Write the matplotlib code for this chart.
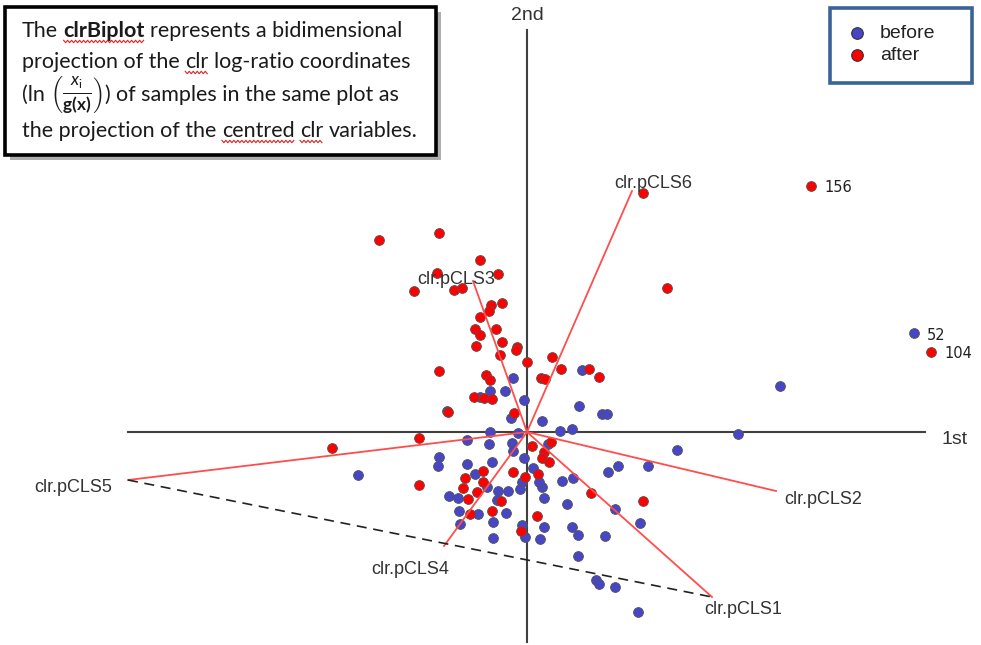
import numpy as np
import matplotlib
matplotlib.use('Agg')
import matplotlib.pyplot as plt
from matplotlib.patches import Rectangle

# sample scores (1st, 2nd component)
before_x = [-0.14, -0.22, -0.37, -0.47, -0.03, -0.16, -0.80, -0.37, -0.09, -0.60,
            0.55, 0.52, 0.75, 0.80, 0.15, 0.33, 0.45, 1.50, 1.21, 0.91,
            0.81, 0.46, 0.35, 0.40, 0.88, 1.13, 0.45, 0.51, 0.78, 0.17,
            0.13, -0.05, -0.02, 0.17, 0.15, 0.12, 0.06, -0.03, 0.21, -0.05,
            -0.07, -0.38, -0.15, -0.14, -0.88, -0.89, -0.60, -0.35, -0.52, -0.40,
            -0.29, -0.19, -0.78, -0.69, -0.30, -0.68, -0.49, -0.21, -0.34, -0.67,
            -0.34, 0.51, 0.69, 0.72, 0.88, 1.11, -1.69, 2.53, 3.87, 2.11]
before_y = [0.54, 0.41, 0.41, 0.35, 0.32, 0.14, 0.21, 0.00, -0.01, -0.08,
            0.62, 0.26, 0.18, 0.18, 0.11, 0.01, 0.03, -0.18, -0.34, -0.34,
            -0.40, -0.46, -0.49, -0.72, -0.77, -0.91, -0.95, -1.03, -1.04, -0.95,
            -1.07, -0.93, -1.05, -0.66, -0.55, -0.50, -0.36, -0.26, -0.12, -0.50,
            -0.57, -0.12, -0.11, -0.19, -0.25, -0.34, -0.32, -0.30, -0.42, -0.55,
            -0.59, -0.59, -0.64, -0.66, -0.68, -0.79, -0.82, -0.81, -0.90, -0.92,
            -1.06, -1.24, -1.48, -1.52, -1.55, -1.80, -0.43, 0.46, 0.99, -0.02]

after_x = [-1.48, -0.88, -0.47, -0.90, -0.29, -1.13, -0.73, -0.65, -0.36, -0.25,
           -0.38, -0.47, -0.52, -0.31, -0.47, -0.25, -0.10, -0.11, -0.51, -0.27,
           0.00, -0.88, -0.41, -0.37, -0.53, -0.43, -0.35, -0.79, -0.13, -1.08,
           0.25, 0.34, 0.14, 0.18, 0.62, 0.72, 1.16, 2.84, 1.40, 4.04,
           0.05, 0.24, 0.17, 0.15, 0.22, 0.11, -0.14, -0.02, 0.64, 1.16,
           0.10, -0.06, -0.44, -0.62, -0.44, -0.64, -0.50, -0.59, -0.26, -0.57,
           -0.35, -1.08, -1.95]
after_y = [1.92, 1.99, 1.72, 1.59, 1.58, 1.41, 1.42, 1.44, 1.27, 1.29,
           1.21, 1.15, 1.03, 1.03, 0.97, 0.90, 0.85, 0.82, 0.86, 0.77,
           0.70, 0.61, 0.57, 0.52, 0.35, 0.34, 0.33, 0.20, 0.19, -0.06,
           0.75, 0.63, 0.54, 0.53, 0.63, 0.55, 2.39, 2.46, 1.44, 0.80,
           -0.14, -0.10, -0.20, -0.26, -0.30, -0.42, -0.40, -0.45, -0.61, -0.69,
           -0.84, -0.99, -0.39, -0.46, -0.50, -0.56, -0.60, -0.67, -0.69, -0.82,
           -0.79, -0.53, -0.16]

# labelled outlying samples
outlier_ids = ['156', '52', '104']
outlier_x = [2.84, 3.87, 4.04]
outlier_y = [2.46, 0.99, 0.80]

# variable loadings
var_names = ['clr.pCLS1', 'clr.pCLS2', 'clr.pCLS3', 'clr.pCLS4', 'clr.pCLS5', 'clr.pCLS6']
var_x = [1.85, 2.49, -0.54, -0.83, -3.99, 1.05]
var_y = [-1.65, -0.59, 1.51, -1.14, -0.48, 2.41]
# where each variable name is written
var_label_x = [2.16, 2.96, -0.71, -1.17, -4.54, 1.26]
var_label_y = [-1.78, -0.68, 1.53, -1.37, -0.56, 2.48]

BLUE = '#4646c6'
RED = '#ff0000'
LINE_RED = '#ff4d4d'

fig = plt.figure(figsize=(9.81, 6.45), dpi=100)
ax = fig.add_axes([0, 0, 1, 1])
ax.set_xlim(-5.27, 4.54)
ax.set_ylim(-2.13, 4.32)
ax.axis('off')


def px(x, y):
    # picture pixel -> data units (origin at the axes crossing)
    return (x - 527) / 100, (432 - y) / 100


# axes of the biplot
ax.plot([-3.99, 3.98], [0, 0], color='#404040', lw=1.5, zorder=1)
ax.plot([0, 0], [-2.10, 4.02], color='#404040', lw=1.5, zorder=1)
ax.text(0, 4.17, '2nd', ha='center', va='center', fontsize=14,
        family='Liberation Sans', color='#333333')
ax.text(4.28, -0.08, '1st', ha='center', va='center', fontsize=14,
        family='Liberation Sans', color='#333333')

# samples
ax.scatter(before_x, before_y, s=50, c=BLUE, edgecolors='#555555', linewidths=0.6, zorder=2)
ax.scatter(after_x, after_y, s=50, c=RED, edgecolors='#555555', linewidths=0.6, zorder=2)
for lab, x, y in zip(outlier_ids, outlier_x, outlier_y):
    ax.text(x + 0.13, y - 0.02, lab, ha='left', va='center', fontsize=10.5,
            family='DejaVu Sans', color='#222222')

# variables
for name, x, y, lx, ly in zip(var_names, var_x, var_y, var_label_x, var_label_y):
    ax.plot([0, x], [0, y], color=LINE_RED, lw=1.3, zorder=3)
    ax.text(lx, ly, name, ha='center', va='center', fontsize=13,
            family='Liberation Sans', color='#333333', zorder=4)

# link between pCLS5 and pCLS1
i5, i1 = var_names.index('clr.pCLS5'), var_names.index('clr.pCLS1')
ax.plot([var_x[i5], var_x[i1]], [var_y[i5], var_y[i1]], color='#222222',
        lw=1.2, ls=(0, (6, 4)), zorder=3)

# legend box
lx0, ly0 = px(830, 83)
lx1, ly1 = px(971.5, 8.5)
ax.add_patch(Rectangle((lx0, ly0), lx1 - lx0, ly1 - ly0, facecolor='white',
                       edgecolor='#3c6397', lw=2.6, zorder=5))
for (mx, my), col, lab in [(px(857, 33), BLUE, 'before'), (px(857, 55), RED, 'after')]:
    ax.scatter([mx], [my], s=70, c=col, edgecolors='#333333', linewidths=0.8, zorder=6)
    ax.text(mx + 0.23, my, lab, ha='left', va='center', fontsize=14,
            family='Liberation Sans', color='#222222', zorder=6)

# text box with shadow
bx0, by0 = px(5, 155)
bx1, by1 = px(435.5, 6.5)
ax.add_patch(Rectangle((bx0 + 0.05, by0 - 0.05), bx1 - bx0, by1 - by0,
                       facecolor='#8a8a8a', edgecolor='none', alpha=0.7, zorder=5))
ax.add_patch(Rectangle((bx0, by0), bx1 - bx0, by1 - by0, facecolor='white',
                       edgecolor='black', lw=2.6, zorder=6))

plt.rcParams['mathtext.fontset'] = 'custom'
plt.rcParams['mathtext.rm'] = 'Lato'
plt.rcParams['mathtext.it'] = 'Lato:italic'
plt.rcParams['mathtext.bf'] = 'Lato:bold'

renderer = fig.canvas.get_renderer()
FAM = 'Lato'


def text_width(s, fs, weight='normal'):
    t = ax.text(0, 0, s, fontsize=fs, family=FAM, fontweight=weight)
    w = t.get_window_extent(renderer).width / 100
    t.remove()
    return w


fs = 13
fs = fs * 3.77 / text_width('The clrBiplot represents a bidimensional', fs)
space = text_width('a a', fs) - text_width('aa', fs)

frac = r'$\left(\frac{x_{\rm i}}{\mathbf{g(x)}}\right)$'
lines = [
    [('The', 'normal', False, True), ('clrBiplot', 'bold', True, True),
     ('represents a bidimensional', 'normal', False, False)],
    [('projection of the', 'normal', False, True), ('clr', 'normal', True, True),
     ('log-ratio coordinates', 'normal', False, False)],
    [('(ln', 'normal', False, True), (frac, 'normal', False, False),
     (')', 'normal', False, True), ('of samples in the same plot as', 'normal', False, False)],
    [('the projection of the', 'normal', False, True), ('centred', 'normal', True, True),
     ('clr', 'normal', True, True), ('variables.', 'normal', False, False)],
]
baselines = [37, 68, 101, 137]


def wavy(x0, x1, y):
    xs = np.arange(x0, x1 + 1e-9, 0.02)
    ys = y + np.where(np.arange(len(xs)) % 2 == 0, 0.012, -0.012)
    ax.plot(xs, ys, color='#e02020', lw=0.8, zorder=7)


for segs, base in zip(lines, baselines):
    x, y = px(22, base)
    for s, weight, under, sp in segs:
        size = fs * 1.15 if s.startswith('$') else fs
        t = ax.text(x, y, s, fontsize=size, family=FAM, fontweight=weight,
                    ha='left', va='baseline', color='#1a1a1a', zorder=7)
        w = t.get_window_extent(renderer).width / 100
        if under:
            wavy(x, x + w, y - 0.045)
        x += w + (space if sp else 0.01)

fig.savefig('out.png', dpi=100)
